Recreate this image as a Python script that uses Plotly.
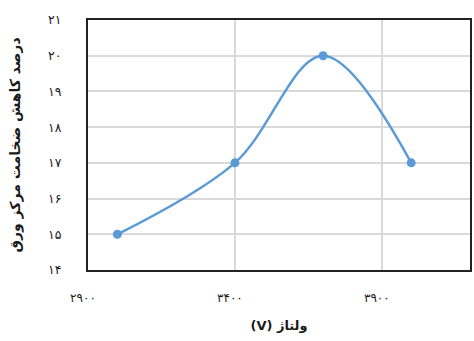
import plotly.graph_objects as go

# Voltage (V) vs. percentage reduction of sheet-centre thickness
voltage = [3000, 3400, 3700, 4000]
thickness_reduction = [15, 17, 20, 17]

x_tick_values = [2900, 3400, 3900]
x_tick_labels = ["۲۹۰۰", "۳۴۰۰", "۳۹۰۰"]
y_tick_values = [14, 15, 16, 17, 18, 19, 20, 21]
y_tick_labels = ["۱۴", "۱۵", "۱۶", "۱۷", "۱۸", "۱۹", "۲۰", "۲۱"]

# unit written first so the word sits to its right in the left-to-right SVG text
x_title = "(V) ولتاژ"
y_title = "درصد کاهش ضخامت مرکز ورق"

line_color = "#5B9BD5"
font_family = "DejaVu Sans"
text_color = "#1a1a1a"

fig = go.Figure(
    go.Scatter(
        x=voltage,
        y=thickness_reduction,
        mode="lines+markers",
        line=dict(color=line_color, width=2.5, shape="spline", smoothing=1.0),
        marker=dict(color=line_color, size=9),
        showlegend=False,
    )
)

fig.update_layout(
    width=474,
    height=341,
    margin=dict(l=88, r=2, t=20, b=71),
    paper_bgcolor="white",
    plot_bgcolor="white",
    font=dict(family=font_family, color=text_color, size=12),
)

fig.update_xaxes(
    range=[2900, 4200],
    tickvals=x_tick_values,
    ticktext=x_tick_labels,
    showgrid=True,
    gridcolor="#D9D9D9",
    gridwidth=1.5,
    showline=True,
    linecolor="#222222",
    linewidth=2,
    mirror=True,
    ticks="",
    ticklabelstandoff=16,
    ticklabelshift=-5,
    tickfont=dict(size=12, family=font_family, color=text_color),
    title=dict(text="<b>" + x_title + "</b>", font=dict(size=13, family=font_family, color=text_color), standoff=16),
    zeroline=False,
)

fig.update_yaxes(
    range=[14, 21],
    tickvals=y_tick_values,
    ticktext=y_tick_labels,
    showgrid=True,
    gridcolor="#D9D9D9",
    gridwidth=1.5,
    showline=True,
    linecolor="#222222",
    linewidth=2,
    mirror=True,
    ticks="",
    ticklabelstandoff=22,
    tickfont=dict(size=12.5, family=font_family, color=text_color),
    title=dict(text="<b>" + y_title + "</b>", font=dict(size=14, family=font_family, color=text_color), standoff=24),
    zeroline=False,
)

fig.write_html("out.html")
